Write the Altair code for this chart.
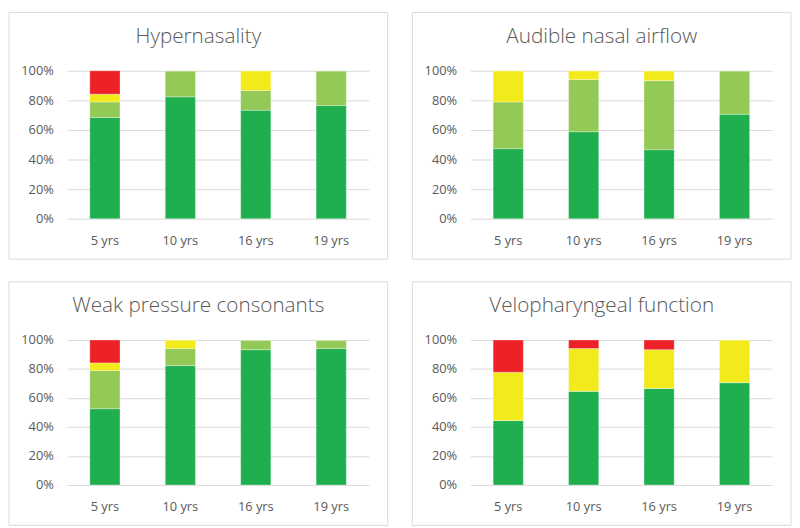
import altair as alt
import pandas as pd

ages = ["5 yrs", "10 yrs", "16 yrs", "19 yrs"]
levels = ["None", "Mild", "Moderate", "Severe"]
level_colors = ["#1faf4e", "#93c956", "#f3ea1c", "#ec2227"]

# Hypernasality (% of children)
hyper_none = [68.4, 82.4, 73.3, 76.5]
hyper_mild = [10.5, 17.6, 13.3, 23.5]
hyper_moderate = [5.3, 0.0, 13.3, 0.0]
hyper_severe = [15.8, 0.0, 0.0, 0.0]

# Audible nasal airflow
anf_none = [47.4, 58.8, 46.7, 70.6]
anf_mild = [31.6, 35.3, 46.7, 29.4]
anf_moderate = [21.1, 5.9, 6.7, 0.0]
anf_severe = [0.0, 0.0, 0.0, 0.0]

# Weak pressure consonants
wpc_none = [52.6, 82.4, 93.3, 94.1]
wpc_mild = [26.3, 11.8, 6.7, 5.9]
wpc_moderate = [5.3, 5.9, 0.0, 0.0]
wpc_severe = [15.8, 0.0, 0.0, 0.0]

# Velopharyngeal function
vpf_none = [44.4, 64.7, 66.7, 70.6]
vpf_mild = [0.0, 0.0, 0.0, 0.0]
vpf_moderate = [33.3, 29.4, 26.7, 29.4]
vpf_severe = [22.2, 5.9, 6.7, 0.0]

FONT = "Open Sans"
TEXT = "#595959"
GRID = "#d9d9d9"
PLOT_W = 306


def make_df(series):
    rows = []
    for li, (lvl, vals) in enumerate(zip(levels, series)):
        for age, v in zip(ages, vals):
            rows.append({"age": age, "level": lvl, "idx": li, "value": v})
    return pd.DataFrame(rows)


def panel(title, series, plot_h):
    df = make_df(series)
    box = alt.Chart(pd.DataFrame({"k": [0]})).mark_rect(
        fillOpacity=0, stroke=GRID, strokeWidth=1
    ).encode(
        x=alt.value(-59), x2=alt.value(PLOT_W + 19),
        y=alt.value(-59), y2=alt.value(plot_h + 41),
    )
    bars = alt.Chart(df).mark_bar(stroke="white", strokeWidth=0.5, strokeOpacity=0.6).encode(
        x=alt.X("age:N", sort=ages, title=None,
                scale=alt.Scale(paddingInner=0.6, paddingOuter=0.3),
                axis=alt.Axis(labelAngle=0, domain=False, ticks=False, labelPadding=16,
                              labelFont=FONT, labelFontSize=13, labelColor=TEXT)),
        y=alt.Y("value:Q", stack="normalize", title=None,
                scale=alt.Scale(domain=[0, 1], nice=False),
                axis=alt.Axis(format="%", values=[0, 0.2, 0.4, 0.6, 0.8, 1.0],
                              domain=False, ticks=False, labelPadding=14,
                              grid=True, gridColor=GRID, gridWidth=1,
                              labelFont=FONT, labelFontSize=13, labelColor=TEXT)),
        color=alt.Color("level:N", scale=alt.Scale(domain=levels, range=level_colors), legend=None),
        order=alt.Order("idx:Q"),
    )
    return alt.layer(box, bars).properties(
        width=PLOT_W, height=plot_h,
        title=alt.TitleParams(title, anchor="middle", frame="group", dx=-20,
                              offset=-52, baseline="alphabetic",
                              font=FONT, fontSize=21, fontWeight=300, color=TEXT),
    )


p1 = panel("Hypernasality", [hyper_none, hyper_mild, hyper_moderate, hyper_severe], 150)
p2 = panel("Audible nasal airflow", [anf_none, anf_mild, anf_moderate, anf_severe], 150)
p3 = panel("Weak pressure consonants", [wpc_none, wpc_mild, wpc_moderate, wpc_severe], 147)
p4 = panel("Velopharyngeal function", [vpf_none, vpf_mild, vpf_moderate, vpf_severe], 147)

chart = alt.vconcat(
    alt.hconcat(p1, p2, spacing=23),
    alt.hconcat(p3, p4, spacing=23),
    spacing=21,
).properties(padding=0, background="white").configure_view(stroke=None)

chart.save("out.html", embed_options={"renderer": "svg", "actions": False})
